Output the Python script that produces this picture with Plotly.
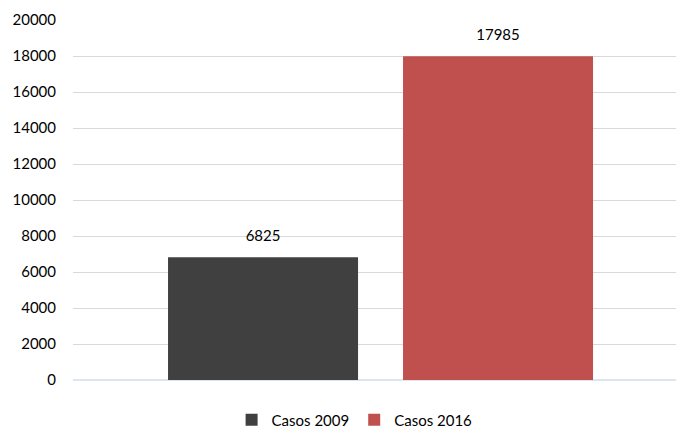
import plotly.graph_objects as go

series_names = ["Casos 2009", "Casos 2016"]
series_values = [6825, 17985]
series_colors = ["#404040", "#C0504D"]
category = ["Casos"]
y_ticks = list(range(0, 20001, 2000))

fig = go.Figure()
for i, (name, val, col) in enumerate(zip(series_names, series_values, series_colors)):
    fig.add_trace(go.Bar(
        x=category, y=[val], name=name, offsetgroup=str(i),
        marker=dict(color=col, line=dict(width=0)),
        hoverinfo="skip",
    ))
for i, (name, val) in enumerate(zip(series_names, series_values)):
    fig.add_trace(go.Scatter(
        x=category, y=[val], offsetgroup=str(i), mode="markers+text",
        marker=dict(size=18, color="rgba(0,0,0,0)"),
        text=[str(val)], textposition="top center", cliponaxis=False,
        textfont=dict(color="#000000", size=15, family="Lato"),
        showlegend=False, hoverinfo="skip",
    ))

fig.update_layout(
    width=676, height=426,
    margin=dict(l=73, r=0, t=20, b=46, autoexpand=False),
    paper_bgcolor="white", plot_bgcolor="white",
    barmode="group", bargap=0.2206, bargroupgap=0.1914,
    scattermode="group", scattergap=0.2206,
    font=dict(family="Lato", size=15, color="#000000"),
    showlegend=True,
    legend=dict(orientation="h", x=0.467, xanchor="center", y=-0.111, yanchor="middle",
                font=dict(size=15), itemwidth=30, traceorder="normal"),
    xaxis=dict(range=[-0.51, 0.49], showticklabels=False, showgrid=False,
               showline=False, zeroline=False, ticks=""),
    yaxis=dict(range=[0, 20000], tickvals=y_ticks, tickformat="d", showgrid=True,
               gridcolor="#D9D9D9", gridwidth=1, zeroline=True, zerolinecolor="#DCE6F2",
               zerolinewidth=2, showline=False, ticks="", ticklabelstandoff=16,
               tickfont=dict(size=15)),
)

fig.write_html("out.html", config={"displayModeBar": False})
with open("out.html", "r", encoding="utf-8") as f:
    html = f.read()
html = html.replace("<head>", "<head><style>html,body{margin:0;padding:0;overflow:hidden;}</style>", 1)
with open("out.html", "w", encoding="utf-8") as f:
    f.write(html)
